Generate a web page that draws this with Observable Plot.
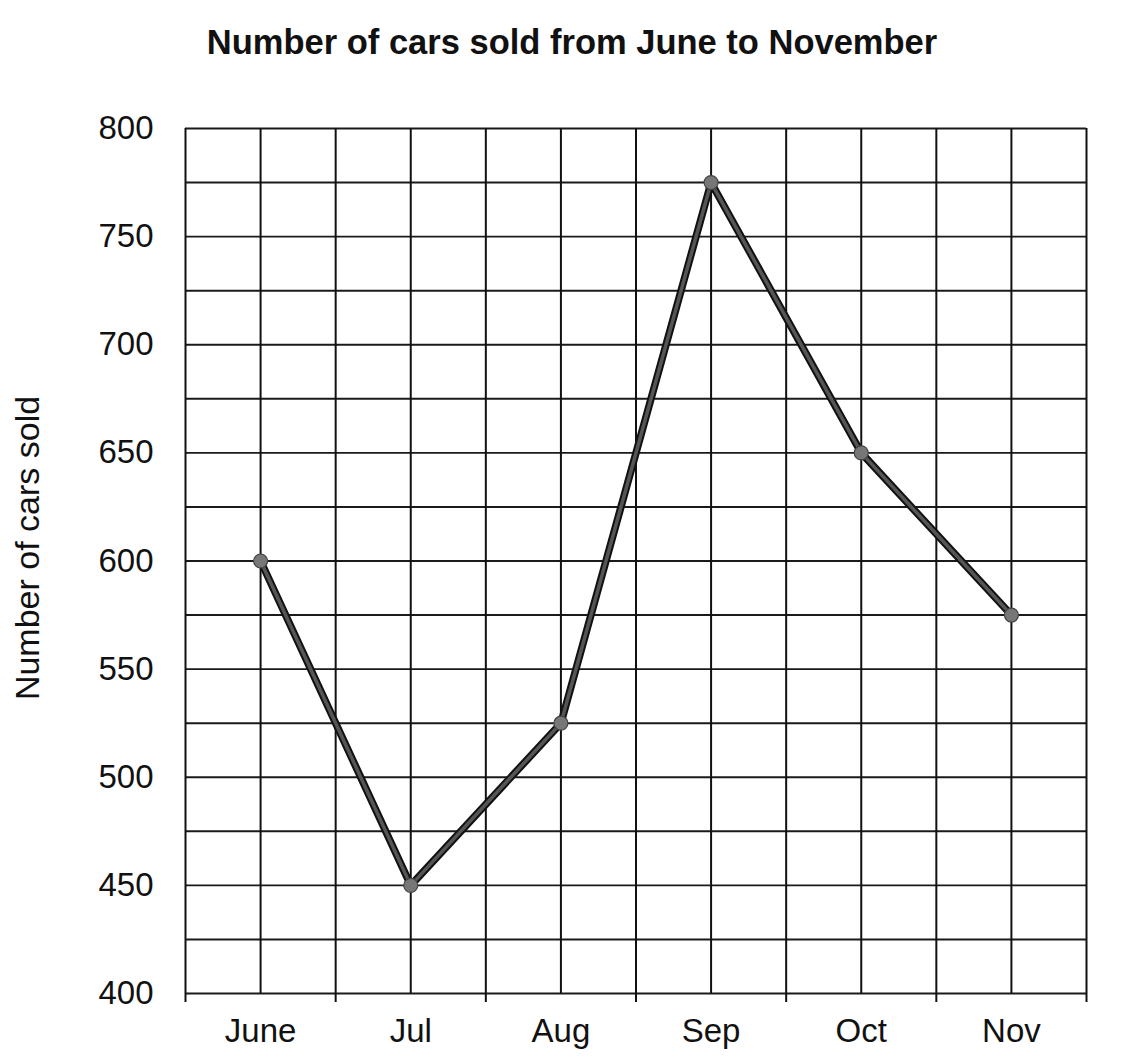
<!DOCTYPE html>
<html>
<head>
<meta charset="utf-8">
<script src="https://cdn.jsdelivr.net/npm/d3@7"></script>
<script src="https://cdn.jsdelivr.net/npm/@observablehq/plot@0.6"></script>
<style>
  html, body { margin: 0; padding: 0; background: #fff; }
  #title { height: 80px; width: 1144px; display: flex; align-items: center; justify-content: center;
           font-family: "Liberation Sans", Arial, sans-serif; font-weight: bold; font-size: 34.5px; color: #111; padding-top: 4px; box-sizing: border-box; }
</style>
</head>
<body>
<div id="title">Number of cars sold from June to November</div>
<div id="chart"></div>
<script>
const months = ["June", "Jul", "Aug", "Sep", "Oct", "Nov"];
const carsSold = [600, 450, 525, 775, 650, 575];
const yTicks = [400, 450, 500, 550, 600, 650, 700, 750, 800];
const yGrid = d3.range(400, 801, 25);
const xGrid = d3.range(0, 6.01, 0.5);
const xEdges = d3.range(0, 7, 1);

const data = months.map((m, i) => ({month: m, pos: i + 0.5, value: carsSold[i]}));

const chart = Plot.plot({
  width: 1144,
  height: 982,
  marginTop: 48,
  marginLeft: 185,
  marginRight: 58,
  marginBottom: 69,
  style: {fontFamily: "'Liberation Sans', Arial, sans-serif", fontSize: "33px", color: "#111", background: "#fff"},
  x: {type: "linear", domain: [0, 6]},
  y: {domain: [400, 800]},
  marks: [
    Plot.ruleY(yGrid, {stroke: "#1a1a1a", strokeWidth: 1.9}),
    Plot.ruleX(xGrid, {stroke: "#111", strokeWidth: 2}),
    Plot.axisY(yTicks, {tickSize: 0, tickPadding: 32, fontSize: 33, label: null}),
    Plot.axisX(xEdges, {tickSize: 9, tickFormat: () => "", label: null, stroke: "#111", strokeWidth: 2}),
    Plot.axisX(data.map(d => d.pos), {tickSize: 0, tickPadding: 25, fontSize: 33, label: null,
      tickFormat: (d) => months[Math.round(d - 0.5)]}),
    Plot.text(["Number of cars sold"], {frameAnchor: "left", textAnchor: "middle", dx: -157, dy: -13, rotate: -90, fontSize: 34, fill: "#111"}),
    Plot.line(data, {x: "pos", y: "value", stroke: "#111", strokeWidth: 7.5}),
    Plot.line(data, {x: "pos", y: "value", stroke: "#555", strokeWidth: 3.5}),
    Plot.dot(data, {x: "pos", y: "value", r: 7, fill: "#777", stroke: "#444", strokeWidth: 1.2})
  ]
});
document.getElementById("chart").appendChild(chart);
</script>
</body>
</html>
